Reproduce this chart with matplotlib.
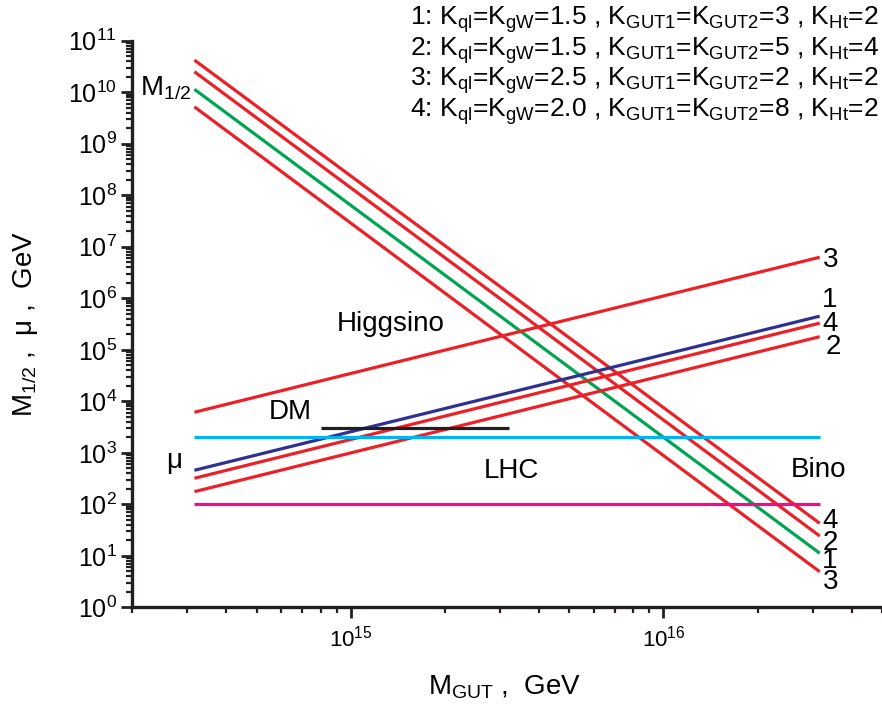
import numpy as np
import matplotlib
matplotlib.use('Agg')
import matplotlib.pyplot as plt
from matplotlib.ticker import LogLocator, NullFormatter

plt.rcParams['font.family'] = ['Liberation Sans', 'DejaVu Sans']
plt.rcParams['mathtext.fontset'] = 'custom'
plt.rcParams['mathtext.rm'] = 'Liberation Sans'
plt.rcParams['mathtext.it'] = 'Liberation Sans:italic'
plt.rcParams['mathtext.bf'] = 'Liberation Sans:bold'

# ---- data ----
m_gut_range = [3.16e14, 3.16e16]          # x extent of all curves
curve_ids = ['1', '2', '3', '4']
m12_start = [1.14e10, 2.5e10, 5.2e9, 4.2e10]   # M_1/2 at left end
m12_end = [11.3, 24.4, 4.95, 43.0]             # M_1/2 at right end
mu_start = [460.0, 177.0, 6150.0, 322.0]       # mu at left end
mu_end = [4.5e5, 1.8e5, 6.27e6, 3.3e5]         # mu at right end
lhc_level = 2000.0
bino_level = 100.0
dm_x = [8.0e14, 3.2e15]
dm_level = 3000.0

legend_lines = [
    "1: K$_\\mathrm{ql}$=K$_\\mathrm{gW}$=1.5 , K$_\\mathrm{GUT1}$=K$_\\mathrm{GUT2}$=3 , K$_\\mathrm{Ht}$=2",
    "2: K$_\\mathrm{ql}$=K$_\\mathrm{gW}$=1.5 , K$_\\mathrm{GUT1}$=K$_\\mathrm{GUT2}$=5 , K$_\\mathrm{Ht}$=4",
    "3: K$_\\mathrm{ql}$=K$_\\mathrm{gW}$=2.5 , K$_\\mathrm{GUT1}$=K$_\\mathrm{GUT2}$=2 , K$_\\mathrm{Ht}$=2",
    "4: K$_\\mathrm{ql}$=K$_\\mathrm{gW}$=2.0 , K$_\\mathrm{GUT1}$=K$_\\mathrm{GUT2}$=8 , K$_\\mathrm{Ht}$=2",
]

RED = '#EC2027'
GREEN = '#00A551'
BLUE = '#2E3192'
CYAN = '#00B5EF'
MAGENTA = '#EC0C8C'

m12_colors = {'1': GREEN, '2': RED, '3': RED, '4': RED}
mu_colors = {'1': BLUE, '2': RED, '3': RED, '4': RED}

fig = plt.figure(figsize=(8.82, 7.11), dpi=100)
ax = fig.add_axes([0.15, 0.1456, 0.85, 0.7972])

lw = 2.3
for cid, a, b in zip(curve_ids, m12_start, m12_end):
    ax.plot(m_gut_range, [a, b], color=m12_colors[cid], lw=lw, solid_capstyle='butt')
for cid, a, b in zip(curve_ids, mu_start, mu_end):
    ax.plot(m_gut_range, [a, b], color=mu_colors[cid], lw=lw, solid_capstyle='butt')

ax.plot(m_gut_range, [lhc_level, lhc_level], color=CYAN, lw=lw, solid_capstyle='butt')
ax.plot(m_gut_range, [bino_level, bino_level], color=MAGENTA, lw=lw, solid_capstyle='butt')
ax.plot(dm_x, [dm_level, dm_level], color='#231F20', lw=lw, solid_capstyle='butt')

ax.set_xscale('log')
ax.set_yscale('log')
ax.set_xlim(2e14, 5e16)
ax.set_ylim(1, 1e11)

ax.spines['top'].set_visible(False)
ax.spines['right'].set_visible(False)
for s in ('left', 'bottom'):
    ax.spines[s].set_linewidth(2.4)
    ax.spines[s].set_color('#231F20')

ax.yaxis.set_major_locator(LogLocator(base=10, numticks=20))
ax.yaxis.set_minor_locator(LogLocator(base=10, subs=np.arange(2, 10), numticks=200))
ax.yaxis.set_minor_formatter(NullFormatter())
ax.xaxis.set_major_locator(LogLocator(base=10, numticks=20))
ax.xaxis.set_minor_locator(LogLocator(base=10, subs=np.arange(2, 10), numticks=200))
ax.xaxis.set_minor_formatter(NullFormatter())

ax.tick_params(axis='both', which='major', direction='out', length=8, width=2.0, color='#231F20')
ax.tick_params(axis='both', which='minor', direction='out', length=4.5, width=1.6, color='#231F20')
ax.tick_params(axis='y', which='major', labelsize=18, pad=3)
ax.tick_params(axis='x', which='major', labelsize=16, pad=5)

ax.set_xlabel("M$_\\mathrm{GUT}$ ,  GeV", fontsize=20)
ax.set_ylabel("M$_\\mathrm{1/2}$ ,  \u03bc ,  GeV", fontsize=20)
ax.xaxis.set_label_coords(0.497, -0.116)
ax.yaxis.set_label_coords(-0.123, 0.5)

fs = 20
ax.text(1.34e15, 3.2e5, "Higgsino", fontsize=fs, ha='center', va='center')
ax.text(6.4e14, 6.2e3, "DM", fontsize=fs, ha='center', va='center')
ax.text(3.26e15, 447, "LHC", fontsize=fs, ha='center', va='center')
ax.text(3.13e16, 468, "Bino", fontsize=fs, ha='center', va='center')
ax.text(2.72e14, 700, "\u03bc", fontsize=fs, ha='center', va='center')
ax.text(2.12e14, 8.45e9, "M$_\\mathrm{1/2}$", fontsize=fs, ha='left', va='baseline')

# end labels of curves
ax.text(3.42e16, 5.5e6, "3", fontsize=fs, ha='center', va='center')
ax.text(3.40e16, 9.2e5, "1", fontsize=fs, ha='center', va='center')
ax.text(3.42e16, 3.2e5, "4", fontsize=fs, ha='center', va='center')
ax.text(3.50e16, 1.13e5, "2", fontsize=fs, ha='center', va='center')
ax.text(3.42e16, 47, "4", fontsize=fs, ha='center', va='center')
ax.text(3.42e16, 17.8, "2", fontsize=fs, ha='center', va='center')
ax.text(3.40e16, 8.0, "1", fontsize=fs, ha='center', va='center')
ax.text(3.42e16, 3.1, "3", fontsize=fs, ha='center', va='center')

baselines_px = [25, 55.5, 86, 116.7]
for txt, by in zip(legend_lines, baselines_px):
    fig.text(879 / 882, 1 - by / 711, txt, fontsize=19, ha='right', va='baseline')

fig.savefig('out.png', dpi=100)
